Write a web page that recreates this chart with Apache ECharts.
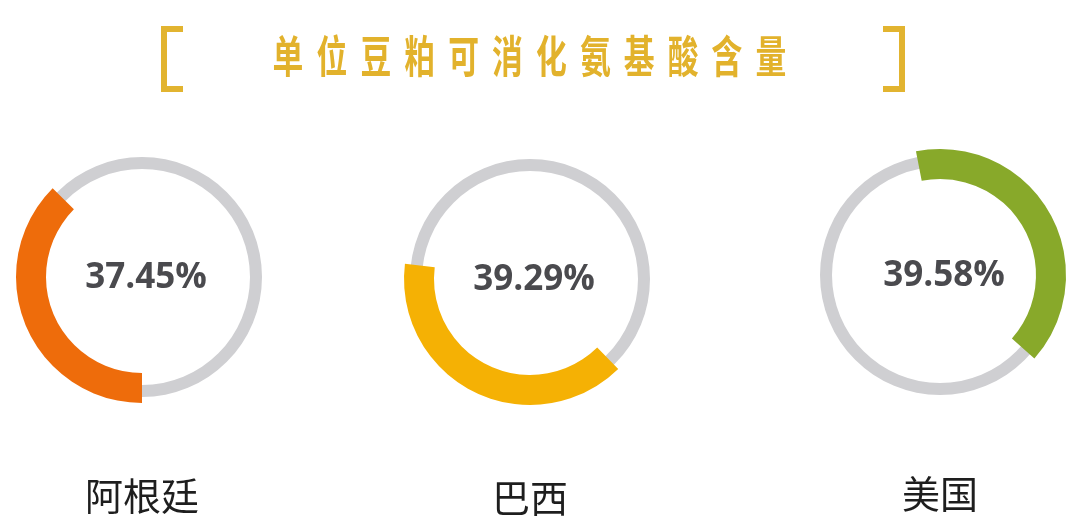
<!DOCTYPE html>
<html>
<head>
<meta charset="utf-8">
<script src="https://cdn.jsdelivr.net/npm/echarts@6/dist/echarts.min.js"></script>
<style>
  html, body { margin: 0; padding: 0; background: #fff; }
  #main { width: 1080px; height: 523px; }
</style>
</head>
<body>
<div id="main"></div>
<script>
// 单位豆粕可消化氨基酸含量
var titleText = '单位豆粕可消化氨基酸含量';
var countries = ['阿根廷', '巴西', '美国'];
var values = [37.45, 39.29, 39.58];
var colors = ['#ee6c0b', '#f5b104', '#88a92a'];

var centers = [[142, 277], [530, 279], [940, 275]];
var starts = [270, 173, 101];     // 起始角度
var clockwise = [true, false, true];

var myChart = echarts.init(document.getElementById('main'));

var series = [];
countries.forEach(function (name, i) {
    // 灰色底环
    series.push({
        type: 'gauge',
        center: centers[i],
        radius: 120,
        startAngle: 90,
        endAngle: -270,
        min: 0,
        max: 100,
        pointer: { show: false },
        progress: { show: false },
        axisLine: { lineStyle: { width: 12, color: [[1, '#cfcfd2']] } },
        axisTick: { show: false },
        splitLine: { show: false },
        axisLabel: { show: false },
        title: { show: false },
        detail: { show: false },
        data: [{ value: 0 }]
    });
    // 数值环
    series.push({
        type: 'gauge',
        center: centers[i],
        radius: 126,
        startAngle: starts[i],
        endAngle: clockwise[i] ? starts[i] - 360 : starts[i] + 360,
        clockwise: clockwise[i],
        min: 0,
        max: 100,
        pointer: { show: false },
        progress: { show: true, width: 30, itemStyle: { color: colors[i] } },
        axisLine: { show: false },
        axisTick: { show: false },
        splitLine: { show: false },
        axisLabel: { show: false },
        anchor: { show: false },
        title: {
            show: true,
            offsetCenter: [0, 219],
            fontSize: 38,
            color: '#1e1e1e',
            fontFamily: 'Noto Sans CJK SC'
        },
        detail: {
            show: true,
            offsetCenter: [4, 1],
            fontSize: 35,
            fontWeight: 'bold',
            fontFamily: 'Open Sans',
            color: '#4a4a4e',
            formatter: function (v) { return v.toFixed(2) + '%'; }
        },
        data: [{ value: values[i], name: name }]
    });
});

// 标题：逐字排列
var graphics = [];
titleText.split('').forEach(function (ch, i) {
    graphics.push({
        type: 'text',
        x: 288 + i * 43.9,
        y: 56,
        scaleX: 0.7,
        style: {
            text: ch,
            fontSize: 44,
            fontWeight: 'bold',
            fontFamily: 'Noto Sans CJK SC',
            fill: '#e2b22c',
            align: 'center',
            verticalAlign: 'middle'
        }
    });
});
// 方括号
graphics.push({
    type: 'polyline',
    shape: { points: [[183, 29], [164, 29], [164, 89], [183, 89]] },
    style: { stroke: '#e2b430', lineWidth: 6, fill: null }
});
graphics.push({
    type: 'polyline',
    shape: { points: [[883, 29], [902, 29], [902, 89], [883, 89]] },
    style: { stroke: '#e2b430', lineWidth: 6, fill: null }
});

var option = {
    backgroundColor: '#fff',
    animation: false,
    graphic: graphics,
    series: series
};
myChart.setOption(option);
window.addEventListener('resize', function () {
    myChart.resize();
});
</script>
</body>
</html>
